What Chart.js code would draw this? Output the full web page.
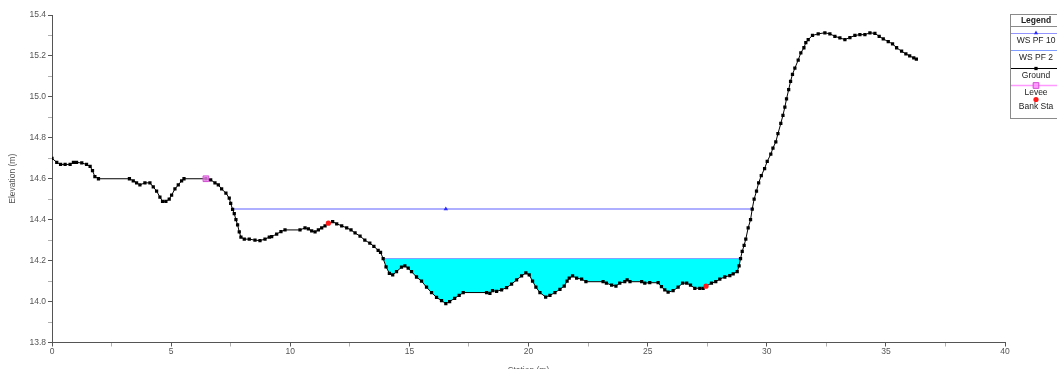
<!DOCTYPE html>
<html>
<head>
<meta charset="utf-8">
<script src="https://cdn.jsdelivr.net/npm/chart.js@4.4.1/dist/chart.umd.min.js"></script>
<style>
  html, body { margin: 0; padding: 0; background: #fff; overflow: hidden; width: 1057px; height: 369px; }
  canvas { display: block; }
</style>
</head>
<body>
<canvas id="xs" width="1057" height="376"></canvas>
<script>
// Cross-section: ground profile (station m, elevation m)
const groundStation = [
  0.00, 0.20, 0.36, 0.55, 0.76, 0.90, 1.03, 1.25, 1.45, 1.60, 1.70, 1.80, 1.95,
  3.25, 3.41, 3.55, 3.69, 3.90, 4.11, 4.25, 4.39, 4.53, 4.64, 4.78, 4.92, 5.02,
  5.16, 5.30, 5.44, 5.54, 6.46, 6.66, 6.84, 6.98, 7.12, 7.30, 7.44, 7.50, 7.58,
  7.65, 7.72, 7.79, 7.86, 7.93, 8.07, 8.28, 8.52, 8.73, 8.94, 9.12, 9.22, 9.43,
  9.61, 9.78, 10.41, 10.62, 10.76, 10.90, 11.04, 11.18, 11.32, 11.46, 11.60,
  11.78, 11.95, 12.16, 12.37, 12.55, 12.72, 12.93, 13.13, 13.34, 13.51, 13.69,
  13.79, 13.90, 14.02, 14.16, 14.30, 14.46, 14.67, 14.81, 14.95, 15.09, 15.30,
  15.51, 15.72, 15.93, 16.14, 16.35, 16.53, 16.69, 16.90, 17.09, 17.26, 18.24,
  18.38, 18.49, 18.66, 18.87, 19.08, 19.29, 19.50, 19.71, 19.89, 20.03, 20.17,
  20.31, 20.48, 20.72, 20.90, 21.11, 21.32, 21.50, 21.62, 21.71, 21.85, 22.02,
  22.23, 22.41, 23.13, 23.27, 23.49, 23.67, 23.83, 24.04, 24.14, 24.26, 24.75,
  24.88, 25.09, 25.44, 25.58, 25.72, 25.86, 26.07, 26.28, 26.47, 26.64, 26.80,
  26.98, 27.19, 27.33, 27.45, 27.68, 27.86, 28.03, 28.24, 28.45, 28.59, 28.76,
  28.84, 28.90, 28.97, 29.05, 29.12, 29.22, 29.32, 29.39, 29.47, 29.57, 29.66,
  29.77, 29.91, 30.02, 30.17, 30.26, 30.38, 30.47, 30.59, 30.68, 30.76, 30.83,
  30.92, 31.00, 31.08, 31.18, 31.32, 31.43, 31.56, 31.64, 31.74, 31.92, 32.16,
  32.44, 32.65, 32.86, 33.07, 33.28, 33.49, 33.70, 33.91, 34.12, 34.33, 34.54,
  34.72, 34.89, 35.10, 35.28, 35.45, 35.66, 35.84, 36.00, 36.17, 36.28
];
const groundElevation = [
  14.700, 14.680, 14.670, 14.670, 14.670, 14.680, 14.680, 14.677, 14.670, 14.660, 14.640, 14.610, 14.600,
  14.600, 14.590, 14.580, 14.570, 14.580, 14.580, 14.560, 14.540, 14.510, 14.490, 14.490, 14.500, 14.520,
  14.550, 14.570, 14.590, 14.600, 14.600, 14.595, 14.580, 14.570, 14.550, 14.530, 14.505, 14.480, 14.450,
  14.430, 14.400, 14.375, 14.340, 14.315, 14.305, 14.305, 14.300, 14.298, 14.305, 14.315, 14.317, 14.330,
  14.342, 14.350, 14.350, 14.360, 14.355, 14.345, 14.340, 14.350, 14.360, 14.370, 14.383,
  14.390, 14.380, 14.370, 14.360, 14.350, 14.335, 14.320, 14.300, 14.285, 14.270, 14.250,
  14.240, 14.210, 14.170, 14.138, 14.130, 14.146, 14.168, 14.174, 14.163, 14.146, 14.120,
  14.100, 14.070, 14.044, 14.020, 14.005, 13.990, 14.000, 14.016, 14.030, 14.044, 14.044,
  14.040, 14.053, 14.050, 14.057, 14.068, 14.085, 14.106, 14.125, 14.140, 14.130, 14.100,
  14.070, 14.044, 14.022, 14.030, 14.044, 14.060, 14.076, 14.100, 14.114, 14.125, 14.114,
  14.110, 14.097, 14.097, 14.090, 14.080, 14.076, 14.090, 14.097, 14.106, 14.097, 14.097,
  14.090, 14.092, 14.092, 14.073, 14.057, 14.046, 14.053, 14.070, 14.090, 14.090, 14.080,
  14.065, 14.065, 14.065, 14.075, 14.090, 14.097, 14.110, 14.120, 14.127, 14.135, 14.146,
  14.174, 14.210, 14.245, 14.275, 14.305, 14.360, 14.400, 14.452, 14.500, 14.540, 14.580,
  14.615, 14.650, 14.685, 14.720, 14.750, 14.780, 14.820, 14.870, 14.910, 14.950, 14.990,
  15.035, 15.076, 15.110, 15.140, 15.180, 15.215, 15.240, 15.265, 15.280, 15.300, 15.308,
  15.313, 15.308, 15.296, 15.288, 15.280, 15.290, 15.300, 15.304, 15.304, 15.313, 15.310,
  15.296, 15.283, 15.270, 15.259, 15.240, 15.223, 15.210, 15.200, 15.190, 15.185
];

// Water surface profiles
const wsPF10Station   = [7.58, 16.53, 29.39];
const wsPF10Elevation = [14.452, 14.452, 14.452];
const wsPF2Station    = [13.90, 28.90];
const wsPF2Elevation  = [14.21, 14.21];

// Levee and bank stations
const leveeStation    = [6.46];
const leveeElevation  = [14.60];
const bankStation     = [11.60, 27.45];
const bankElevation   = [14.383, 14.075];

// Axis ticks and labels
const stationTicks  = [0, 2.5, 5, 7.5, 10, 12.5, 15, 17.5, 20, 22.5, 25, 27.5, 30, 32.5, 35, 37.5, 40];
const stationLabels = [0, 5, 10, 15, 20, 25, 30, 35, 40];
const elevTicks  = [13.8, 13.9, 14.0, 14.1, 14.2, 14.3, 14.4, 14.5, 14.6, 14.7, 14.8, 14.9, 15.0, 15.1, 15.2, 15.3, 15.4];
const elevLabels = ['13.8', '14.0', '14.2', '14.4', '14.6', '14.8', '15.0', '15.2', '15.4'];

const seriesNames = ['WS PF 10', 'WS PF 2', 'Ground', 'Levee', 'Bank Sta'];

const toPoints = (xs, ys) => xs.map((x, i) => ({ x: x, y: ys[i] }));

const GROUND = 2;

const datasets = [
  {
    label: seriesNames[0],
    data: toPoints(wsPF10Station, wsPF10Elevation),
    borderColor: '#9494ff',
    borderWidth: 1.5,
    pointStyle: ['circle', 'triangle', 'circle'],
    pointRadius: [1.2, 2.6, 1.2],
    pointBackgroundColor: '#2b2bff',
    pointBorderWidth: 0,
    fill: false,
    order: 3
  },
  {
    label: seriesNames[1],
    data: toPoints(wsPF2Station, wsPF2Elevation),
    borderColor: '#7f9cff',
    borderWidth: 1,
    pointRadius: 0,
    fill: { target: GROUND, above: '#00ffff', below: 'rgba(0,0,0,0)' },
    order: 4
  },
  {
    label: seriesNames[2],
    data: toPoints(groundStation, groundElevation),
    borderColor: '#000',
    borderWidth: 1,
    pointStyle: 'rect',
    pointRadius: 2.3,
    pointBackgroundColor: '#000',
    pointBorderWidth: 0,
    fill: false,
    order: 2
  },
  {
    label: seriesNames[3],
    data: toPoints(leveeStation, leveeElevation),
    showLine: false,
    pointStyle: 'rect',
    pointRadius: 4,
    pointBackgroundColor: 'rgba(255,140,255,0.75)',
    pointBorderColor: '#d24bd2',
    pointBorderWidth: 1,
    order: 1
  },
  {
    label: seriesNames[4],
    data: toPoints(bankStation, bankElevation),
    showLine: false,
    pointStyle: 'circle',
    pointRadius: 2.6,
    pointBackgroundColor: '#ff1a1a',
    pointBorderWidth: 0,
    order: 0
  }
];

// Boxed legend in the upper right, one sample row per series
const legendBox = {
  id: 'legendBox',
  afterDraw(chart) {
    const ctx = chart.ctx;
    const left = 1010, top = 14, right = 1066, bottom = 118, cx = 1036;
    ctx.save();
    ctx.fillStyle = '#fff';
    ctx.fillRect(left, top, right - left, bottom - top);
    ctx.strokeStyle = '#8a8a8a';
    ctx.lineWidth = 1;
    ctx.strokeRect(left + 0.5, top + 0.5, right - left, bottom - top);
    ctx.textAlign = 'center';
    ctx.textBaseline = 'middle';
    ctx.fillStyle = '#222';
    ctx.font = 'bold 8.5px "Liberation Sans", Arial, sans-serif';
    ctx.fillText('Legend', cx, 20.5);
    ctx.beginPath();
    ctx.moveTo(left, 26.5);
    ctx.lineTo(right, 26.5);
    ctx.stroke();

    const rows = [
      { ds: 0, line: 33.5, text: 40.5 },
      { ds: 1, line: 50.5, text: 57.5 },
      { ds: 2, line: 68.5, text: 76 },
      { ds: 3, line: 85.5, text: 92.5 },
      { ds: 4, line: 99.5, text: 106.5 }
    ];
    const lineColors = ['#9494ff', '#7f9cff', '#000', '#ff99ff', null];
    rows.forEach(r => {
      const d = chart.data.datasets[r.ds];
      if (lineColors[r.ds]) {
        ctx.strokeStyle = lineColors[r.ds];
        ctx.lineWidth = r.ds === 3 ? 1.5 : 1;
        ctx.beginPath();
        ctx.moveTo(left + 1, r.line);
        ctx.lineTo(right, r.line);
        ctx.stroke();
      }
      if (r.ds === 0) {
        ctx.fillStyle = '#2b2bff';
        Chart.helpers.drawPoint(ctx, { pointStyle: 'triangle', radius: 2.4, rotation: 0, borderWidth: 0 }, cx, r.line - 0.5);
      } else if (r.ds === 2) {
        ctx.fillStyle = '#000';
        Chart.helpers.drawPoint(ctx, { pointStyle: 'rect', radius: 2.3, rotation: 0, borderWidth: 0 }, cx, r.line);
      } else if (r.ds === 3) {
        ctx.fillStyle = 'rgba(255,140,255,0.8)';
        ctx.strokeStyle = '#d24bd2';
        ctx.lineWidth = 1;
        Chart.helpers.drawPoint(ctx, { pointStyle: 'rect', radius: 4, rotation: 0, borderWidth: 1 }, cx, r.line);
      } else if (r.ds === 4) {
        ctx.fillStyle = '#ff1a1a';
        Chart.helpers.drawPoint(ctx, { pointStyle: 'circle', radius: 2.6, rotation: 0, borderWidth: 0 }, cx, r.line);
      }
      ctx.fillStyle = '#222';
      ctx.font = '8.5px "Liberation Sans", Arial, sans-serif';
      ctx.fillText(d.label, cx, r.text);
    });
    ctx.restore();
  }
};

Chart.defaults.font.family = '"Liberation Sans", Arial, sans-serif';
Chart.defaults.font.size = 8.5;
Chart.defaults.color = '#555';

new Chart(document.getElementById('xs'), {
  type: 'line',
  data: { datasets: datasets },
  options: {
    responsive: false,
    devicePixelRatio: 1,
    animation: false,
    events: [],
    layout: { padding: { top: 15, right: 52, left: 0, bottom: 0 } },
    elements: { line: { tension: 0 } },
    plugins: {
      legend: { display: false },
      tooltip: { enabled: false }
    },
    scales: {
      x: {
        type: 'linear',
        min: 0,
        max: 40,
        afterBuildTicks: s => { s.ticks = stationTicks.map(v => ({ value: v })); },
        afterFit: s => { s.height = 33.5; },
        border: { color: '#555', width: 1 },
        grid: {
          drawOnChartArea: false,
          drawTicks: true,
          tickLength: 4,
          tickColor: c => stationLabels.includes(c.tick && c.tick.value) ? '#555' : '#b0b0b0'
        },
        ticks: {
          autoSkip: false,
          maxRotation: 0,
          padding: 0,
          color: '#555',
          callback: v => stationLabels.includes(v) ? String(v) : ''
        },
        title: {
          display: true,
          text: 'Station (m)',
          color: '#555',
          padding: { top: 0, bottom: 0 }
        }
      },
      y: {
        type: 'linear',
        min: 13.8,
        max: 15.4,
        afterBuildTicks: s => { s.ticks = elevTicks.map(v => ({ value: v })); },
        afterFit: s => { s.width = 52; },
        border: { color: '#555', width: 1 },
        grid: {
          drawOnChartArea: false,
          drawTicks: true,
          tickLength: 4,
          tickColor: c => elevLabels.includes(c.tick ? c.tick.value.toFixed(1) : '') ? '#555' : '#b0b0b0'
        },
        ticks: {
          autoSkip: false,
          padding: 2,
          color: '#555',
          callback: v => elevLabels.includes(Number(v).toFixed(1)) ? Number(v).toFixed(1) : ''
        },
        title: {
          display: true,
          text: 'Elevation (m)',
          color: '#555',
          padding: { top: 8, bottom: 0 }
        }
      }
    }
  },
  plugins: [legendBox]
});
</script>
</body>
</html>
